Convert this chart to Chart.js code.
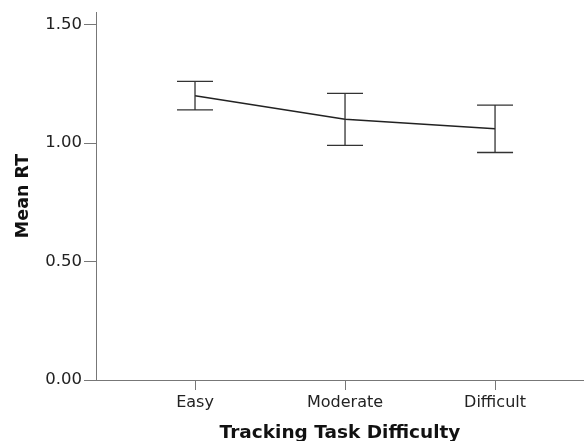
<!DOCTYPE html>
<html>
<head>
<meta charset="utf-8">
<script src="https://cdn.jsdelivr.net/npm/chart.js@4"></script>
<style>
  html, body { margin: 0; padding: 0; background: #fff; overflow: hidden; }
  #wrap { width: 584px; height: 450px; position: relative; }
</style>
</head>
<body>
<div id="wrap"><canvas id="myChart"></canvas></div>
<script>
const categories = ['Easy', 'Moderate', 'Difficult'];
const meanRT = [1.20, 1.10, 1.06];
const ciLower = [1.14, 0.99, 0.96];
const ciUpper = [1.26, 1.21, 1.16];
const yTicks = [0, 0.5, 1.0, 1.5];

const FONT = 'DejaVu Sans';

// error bars with caps, drawn through the chart scales
const errorBars = {
    id: 'errorBars',
    afterDatasetsDraw(chart) {
        const ctx = chart.ctx;
        const xs = chart.scales.x;
        const ys = chart.scales.y;
        ctx.save();
        ctx.strokeStyle = '#333';
        ctx.lineWidth = 1.3;
        categories.forEach((c, i) => {
            const x = xs.getPixelForValue(i);
            const top = ys.getPixelForValue(ciUpper[i]);
            const bot = ys.getPixelForValue(ciLower[i]);
            ctx.beginPath();
            ctx.moveTo(x, top);
            ctx.lineTo(x, bot);
            ctx.moveTo(x - 18, top);
            ctx.lineTo(x + 18, top);
            ctx.moveTo(x - 18, bot);
            ctx.lineTo(x + 18, bot);
            ctx.stroke();
        });
        ctx.restore();
    }
};

const data = {
    datasets: [
        {
            label: 'Mean RT',
            data: meanRT.map((v, i) => ({x: i, y: v})),
            borderColor: '#222',
            borderWidth: 1.5,
            pointRadius: 0,
            fill: false,
            tension: 0
        }
    ]
};

const config = {
    type: 'line',
    data: data,
    options: {
        responsive: true,
        maintainAspectRatio: false,
        animation: false,
        layout: {
            padding: {top: 12, right: 0, bottom: 0, left: 0}
        },
        plugins: {
            legend: {display: false},
            tooltip: {enabled: false}
        },
        scales: {
            x: {
                type: 'linear',
                min: -0.66,
                max: 2.593,
                afterBuildTicks: (scale) => {
                    scale.ticks = categories.map((c, i) => ({value: i}));
                },
                afterFit: (scale) => { scale.height = 70; },
                ticks: {
                    callback: (v) => categories[v],
                    color: '#222',
                    font: {family: FONT, size: 16},
                    padding: 3,
                    maxRotation: 0
                },
                grid: {
                    drawOnChartArea: false,
                    tickLength: 10,
                    color: '#777'
                },
                border: {color: '#777', width: 1},
                title: {
                    display: true,
                    text: 'Tracking Task Difficulty',
                    color: '#111',
                    font: {family: FONT, size: 18.5, weight: 'bold'},
                    padding: {top: 0, bottom: 6}
                }
            },
            y: {
                min: 0,
                max: 1.553,
                afterBuildTicks: (scale) => {
                    scale.ticks = yTicks.map(v => ({value: v}));
                },
                afterFit: (scale) => { scale.width = 96; },
                ticks: {
                    callback: (v) => v.toFixed(2),
                    color: '#222',
                    font: {family: FONT, size: 16.5},
                    padding: 2
                },
                grid: {
                    drawOnChartArea: false,
                    tickLength: 12,
                    color: '#777'
                },
                border: {color: '#777', width: 1},
                title: {
                    display: true,
                    text: 'Mean RT',
                    color: '#111',
                    font: {family: FONT, size: 17.5, weight: 'bold'},
                    padding: {top: 12.5, bottom: 0}
                }
            }
        }
    },
    plugins: [errorBars]
};

const ctx = document.getElementById('myChart');
const myChart = new Chart(ctx, config);
</script>
</body>
</html>
